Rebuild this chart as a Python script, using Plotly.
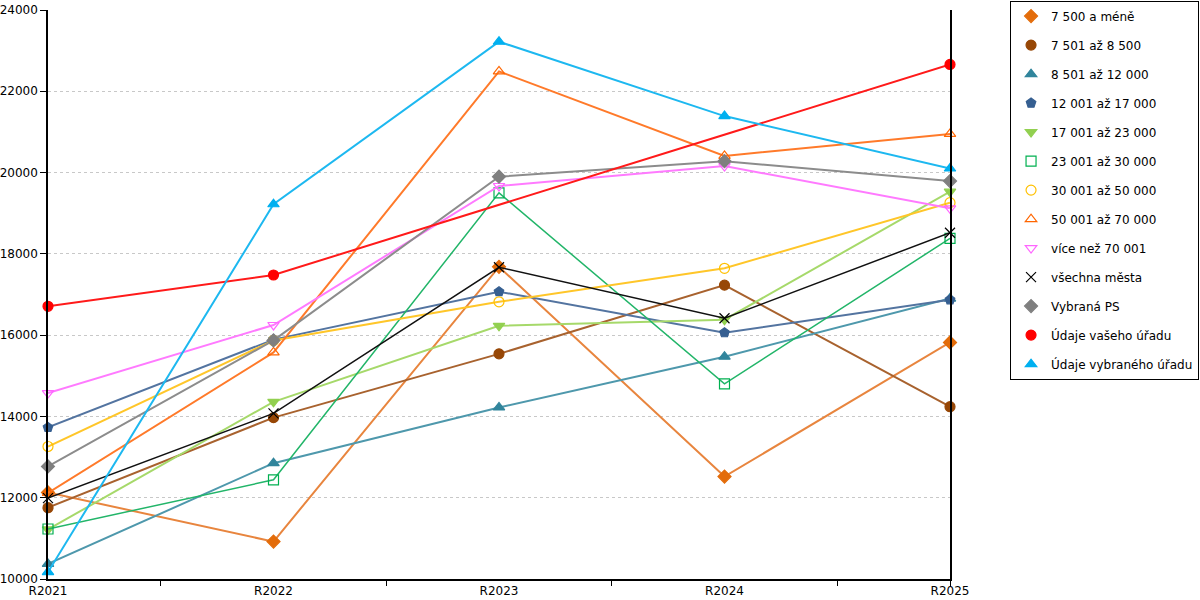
import plotly.graph_objects as go

years = ["R2021", "R2022", "R2023", "R2024", "R2025"]

series_names = [
    "7 500 a méně", "7 501 až 8 500", "8 501 až 12 000", "12 001 až 17 000",
    "17 001 až 23 000", "23 001 až 30 000", "30 001 až 50 000", "50 001 až 70 000",
    "více než 70 001", "všechna města", "Vybraná PS", "Údaje vašeho úřadu",
    "Údaje vybraného úřadu",
]

v_7500 = [12130, 10920, 17680, 12520, 15820]
v_8500 = [11755, 13970, 15540, 17230, 14240]
v_12000 = [10370, 12850, 14220, 15470, 16900]
v_17000 = [13730, 15890, 17070, 16060, 16870]
v_23000 = [11220, 14360, 16230, 16380, 19530]
v_30000 = [11230, 12440, 19500, 14800, 18380]
v_50000 = [13260, 15870, 16820, 17645, 19260]
v_70000 = [12120, 15575, 22490, 20410, 20950]
v_70001 = [14575, 16250, 19670, 20160, 19120]
v_all = [11990, 14075, 17670, 16415, 18520]
v_ps = [12770, 15870, 19900, 20280, 19790]
v_office = [16710, 17480, None, None, 22660]
v_selected = [10170, 19220, 23220, 21390, 20100]

values = [v_7500, v_8500, v_12000, v_17000, v_23000, v_30000, v_50000,
          v_70000, v_70001, v_all, v_ps, v_office, v_selected]

styles = [
    dict(lc="#E8853E", mc="#E36C0A", sym="diamond", lw=2, sz=10),
    dict(lc="#A8622E", mc="#974706", sym="circle", lw=2, sz=10),
    dict(lc="#4E98AC", mc="#31859C", sym="triangle-up", lw=2, sz=10),
    dict(lc="#5374A0", mc="#365F91", sym="pentagon", lw=2, sz=10),
    dict(lc="#A6D96A", mc="#92D050", sym="triangle-down", lw=2, sz=10),
    dict(lc="#22B569", mc="#00B050", sym="square-open", lw=1.5, sz=10),
    dict(lc="#FFC629", mc="#FFC000", sym="circle-open", lw=2, sz=10),
    dict(lc="#FF7A2A", mc="#FF6600", sym="triangle-up-open", lw=2, sz=10),
    dict(lc="#FF7AFF", mc="#FF66FF", sym="triangle-down-open", lw=2, sz=10),
    dict(lc="#111111", mc="#000000", sym="x-thin-open", lw=1.5, sz=10),
    dict(lc="#8C8C8C", mc="#7F7F7F", sym="diamond", lw=2, sz=10),
    dict(lc="#FF1A1A", mc="#FF0000", sym="circle", lw=2, sz=10),
    dict(lc="#1DB8F0", mc="#00B0F0", sym="triangle-up", lw=2, sz=10),
]

fig = go.Figure()
for name, vals, st in zip(series_names, values, styles):
    fig.add_trace(go.Scatter(
        x=years, y=vals, mode="lines+markers", name=name, showlegend=False,
        connectgaps=True, cliponaxis=False,
        line=dict(color=st["lc"], width=st["lw"]),
        marker=dict(symbol=st["sym"], size=st["sz"], color=st["mc"],
                    line=dict(color=st["mc"], width=1.2)),
    ))

for i, (name, st) in enumerate(zip(series_names, styles)):
    fig.add_trace(go.Scatter(
        x=[None], y=[None], mode="markers", name=name, legendgroup=f"g{i}",
        marker=dict(symbol=st["sym"], size=10, color=st["mc"],
                    line=dict(color=st["mc"], width=1.2)),
    ))

# helper traces for the overlay axes (tick marks between categories, right frame line)
fig.add_trace(go.Scatter(x=[None], y=[None], xaxis="x2", yaxis="y", showlegend=False,
                         hoverinfo="skip"))
fig.add_trace(go.Scatter(x=[None], y=[None], yaxis="y2", showlegend=False, hoverinfo="skip"))

font_family = "DejaVu Sans"
fig.update_layout(
    width=1200, height=600,
    margin=dict(l=48, r=250, t=10, b=21, autoexpand=False),
    paper_bgcolor="white", plot_bgcolor="white",
    font=dict(family=font_family, size=12, color="#000000"),
    xaxis=dict(
        type="category", range=[0, 4], showgrid=False, zeroline=False,
        showline=True, linecolor="#000000", linewidth=1.5,
        ticks="", ticklen=0, tickfont=dict(size=12),
    ),
    xaxis2=dict(
        overlaying="x", range=[0, 4], showgrid=False, zeroline=False,
        showline=False, ticks="outside", ticklen=6, tickcolor="#000000", tickwidth=1,
        tickmode="array", tickvals=[0.5, 1.5, 2.5, 3.5, 4], showticklabels=False,
        side="bottom", anchor="y",
    ),
    yaxis=dict(
        range=[10000, 24000], dtick=2000, tickformat="d",
        showgrid=True, gridcolor="#C8C8C8", griddash="3px,3px", gridwidth=1,
        zeroline=False, showline=True, linecolor="#000000", linewidth=1.5,
        ticks="outside", ticklen=6, tickcolor="#000000", tickfont=dict(size=12),
    ),
    yaxis2=dict(
        overlaying="y", side="right", range=[10000, 24000], showgrid=False,
        zeroline=False, showline=True, linecolor="#000000", linewidth=1.5,
        showticklabels=False, ticks="",
    ),
    legend=dict(
        x=1.2761, xanchor="right", y=1.0165, yanchor="top",
        bgcolor="white", bordercolor="#000000", borderwidth=1,
        font=dict(family=font_family, size=12), tracegroupgap=10,
        itemwidth=30, maxheight=1,
    ),
)

fig.write_html("out.html", config={"displayModeBar": False},
               post_script=["document.body.style.margin='0px';"])
